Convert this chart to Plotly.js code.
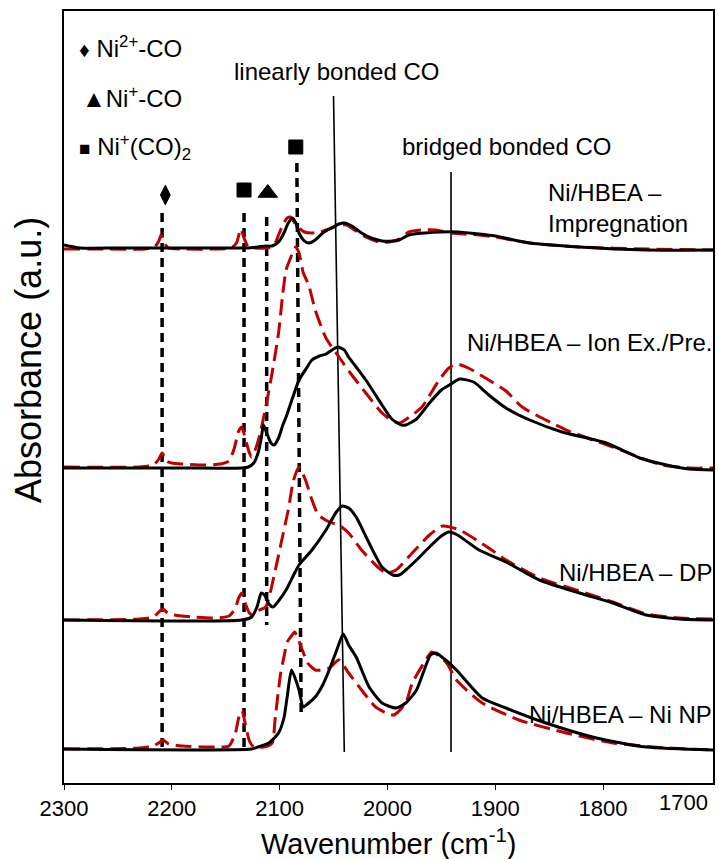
<!DOCTYPE html>
<html><head><meta charset="utf-8">
<script src="https://cdn.plot.ly/plotly-3.0.1.min.js"></script>
<style>html,body{margin:0;padding:0;background:#fff}#chart{width:718px;height:859px}</style>
</head><body><div id="chart"></div>
<script>
// ---- Data (wavenumber in cm-1, absorbance in offset a.u.) ----
const impregWnK = [2300,2285,2250,2200,2150,2130,2120,2113,2107,2101,2096,2092,2088,2085,2082,2078,2073,2067,2060,2052,2045,2040,2033,2024,2015,2005,1995,1989,1980,1965,1950,1935,1915,1900,1868,1822,1760,1698];
const impregK   = [5.38,5.35,5.35,5.35,5.35,5.35,5.36,5.37,5.37,5.41,5.50,5.60,5.65,5.60,5.50,5.43,5.40,5.43,5.50,5.55,5.59,5.60,5.57,5.50,5.45,5.42,5.42,5.43,5.48,5.50,5.51,5.51,5.49,5.47,5.40,5.36,5.33,5.33];
const impregWnR = [2300,2260,2225,2216,2212,2210,2207,2203,2190,2160,2145,2140,2136,2133,2129,2122,2113,2108,2104,2101,2097,2093,2090,2086,2082,2077,2070,2062,2052,2043,2038,2029,2020,2008,1998,1989,1980,1968,1955,1941,1915,1900,1868,1822,1760,1698];
const impregR   = [5.34,5.34,5.34,5.36,5.42,5.48,5.40,5.35,5.34,5.34,5.35,5.40,5.54,5.45,5.36,5.35,5.35,5.36,5.40,5.48,5.58,5.65,5.66,5.60,5.55,5.51,5.50,5.51,5.55,5.58,5.58,5.52,5.46,5.41,5.41,5.44,5.51,5.53,5.53,5.50,5.48,5.46,5.40,5.36,5.34,5.33];

const ionWnK = [2300,2200,2135,2129,2124,2120,2117,2115,2112,2108,2105,2101,2097,2094,2088,2082,2075,2070,2063,2057,2050,2046,2040,2036,2029,2020,2011,2005,1996,1987,1983,1973,1961,1950,1941,1933,1920,1906,1890,1868,1838,1797,1766,1741,1720,1698];
const ionK   = [3.15,3.15,3.15,3.16,3.20,3.30,3.45,3.58,3.50,3.40,3.38,3.45,3.58,3.66,3.85,4.03,4.15,4.23,4.27,4.29,4.34,4.36,4.33,4.26,4.16,4.03,3.88,3.78,3.64,3.58,3.58,3.64,3.80,3.93,3.99,4.04,4.01,3.88,3.75,3.63,3.51,3.40,3.25,3.18,3.14,3.13];
const ionWnR = [2300,2230,2217,2212,2209,2205,2200,2190,2170,2155,2147,2142,2138,2135,2132,2128,2126,2122,2118,2113,2107,2101,2097,2094,2091,2088,2085,2082,2078,2073,2067,2057,2045,2033,2020,2005,1995,1989,1977,1968,1952,1943,1936,1925,1906,1890,1875,1834,1791,1745,1720,1698];
const ionR   = [3.16,3.16,3.18,3.24,3.30,3.22,3.20,3.19,3.18,3.19,3.22,3.35,3.52,3.56,3.45,3.30,3.26,3.35,3.50,3.75,4.10,4.50,4.90,5.13,5.22,5.30,5.36,5.30,5.10,4.98,4.73,4.45,4.26,4.08,3.90,3.70,3.62,3.60,3.68,3.76,4.03,4.15,4.19,4.15,4.03,3.92,3.76,3.53,3.36,3.18,3.15,3.15];

const dpWnK = [2300,2135,2126,2121,2117,2114,2110,2106,2101,2094,2087,2082,2070,2057,2048,2042,2036,2029,2017,2005,1995,1989,1983,1973,1961,1950,1943,1935,1915,1890,1859,1822,1791,1760,1729,1698];
const dpK   = [1.63,1.63,1.66,1.76,1.90,1.88,1.79,1.76,1.82,1.93,2.08,2.18,2.33,2.53,2.70,2.77,2.75,2.66,2.40,2.16,2.08,2.08,2.13,2.23,2.36,2.47,2.51,2.48,2.33,2.21,2.03,1.90,1.80,1.68,1.64,1.63];
const dpWnR = [2300,2230,2217,2211,2208,2204,2198,2180,2160,2147,2141,2138,2135,2132,2128,2125,2121,2113,2104,2098,2092,2087,2082,2076,2070,2064,2054,2045,2036,2024,2008,2001,1992,1977,1961,1949,1933,1906,1890,1859,1822,1791,1760,1729,1698];
const dpR   = [1.63,1.64,1.66,1.72,1.74,1.70,1.68,1.66,1.65,1.67,1.75,1.85,1.90,1.80,1.70,1.68,1.72,1.76,2.13,2.43,2.73,3.03,3.16,3.03,2.83,2.68,2.61,2.58,2.50,2.33,2.15,2.10,2.13,2.30,2.48,2.57,2.53,2.35,2.23,2.05,1.92,1.81,1.69,1.65,1.64];

const npWnK = [2300,2126,2120,2110,2101,2096,2093,2089,2085,2082,2078,2073,2067,2060,2054,2047,2041,2036,2029,2017,2005,1992,1983,1973,1960,1955,1946,1936,1912,1890,1853,1806,1760,1698];
const npK   = [0.34,0.34,0.36,0.40,0.50,0.65,0.86,1.13,1.03,0.93,0.76,0.80,0.86,0.98,1.13,1.33,1.49,1.38,1.26,0.96,0.80,0.75,0.80,0.93,1.28,1.30,1.23,1.13,0.85,0.75,0.60,0.45,0.36,0.33];
const npWnR = [2300,2230,2217,2211,2208,2203,2190,2160,2147,2141,2138,2135,2132,2128,2124,2115,2107,2104,2099,2096,2093,2089,2086,2080,2074,2067,2060,2054,2045,2036,2024,2011,1999,1994,1983,1977,1965,1959,1955,1945,1936,1912,1878,1834,1791,1740,1698];
const npR   = [0.34,0.35,0.37,0.41,0.43,0.39,0.37,0.36,0.37,0.50,0.65,0.73,0.60,0.42,0.36,0.36,0.40,0.66,1.10,1.26,1.41,1.47,1.51,1.36,1.20,1.13,1.13,1.15,1.23,1.10,0.93,0.76,0.69,0.68,0.80,1.00,1.22,1.31,1.29,1.20,1.03,0.80,0.63,0.50,0.40,0.35,0.33];

// peak assignment guide lines (dashed)
const assignWnTop    = [2209, 2133, 2112, 2084];
const assignWnBottom = [2209, 2133, 2112, 2080];
const assignTop      = [5.70, 5.70, 5.66, 6.20];
const assignBottom   = [0.33, 0.33, 1.58, 0.68];
const symbolWn   = [2206, 2133, 2111, 2085];
const symbolY    = [5.88, 5.93, 5.90, 6.36];
const symbolKind = ['diamond-tall', 'square', 'triangle-up', 'square'];

// bonded CO guide lines (solid)
const bondWnTop    = [2050, 1941];
const bondWnBottom = [2040, 1941];
const bondTop      = [6.87, 6.11];
const bondBottom   = [0.31, 0.31];

const xTicks = [2300, 2200, 2100, 2000, 1900, 1800, 1700];

// ---- Traces ----
const BLACK = '#000000', RED = '#C00000';
const traces = [];
function spec(wn, y, color, dashed) {
  return {x: wn, y: y, type: 'scatter', mode: 'lines', hoverinfo: 'skip',
    line: {color: color, width: 3, shape: 'spline', smoothing: 0.6, dash: dashed ? '16px,7px' : 'solid'}};
}
for (let i = 0; i < assignWnTop.length; i++) {
  traces.push({x: [assignWnTop[i], assignWnBottom[i]], y: [assignTop[i], assignBottom[i]],
    type: 'scatter', mode: 'lines', line: {color: BLACK, width: 3.5, dash: '9px,6px'}, hoverinfo: 'skip'});
}
for (let i = 0; i < bondWnTop.length; i++) {
  traces.push({x: [bondWnTop[i], bondWnBottom[i]], y: [bondTop[i], bondBottom[i]],
    type: 'scatter', mode: 'lines', line: {color: BLACK, width: 1.6}, hoverinfo: 'skip'});
}
traces.push(spec(impregWnR, impregR, RED, true));
traces.push(spec(impregWnK, impregK, BLACK, false));
traces.push(spec(ionWnR, ionR, RED, true));
traces.push(spec(ionWnK, ionK, BLACK, false));
traces.push(spec(dpWnR, dpR, RED, true));
traces.push(spec(dpWnK, dpK, BLACK, false));
traces.push(spec(npWnR, npR, RED, true));
traces.push(spec(npWnK, npK, BLACK, false));
traces.push({x: symbolWn, y: symbolY, type: 'scatter', mode: 'markers', hoverinfo: 'skip', opacity: 1,
  marker: {symbol: symbolKind, size: [14, 14, 17, 14], color: '#000000', opacity: 1,
           line: {width: 1, color: '#000000'}}});

// ---- Layout ----
const L = 64, R = 5, T = 11, B = 76, W = 718, H = 859;
const PW = W - L - R, PH = H - T - B;
const px = v => (v - L) / PW;
const py = v => (H - B - v) / PH;
const FONT = 'Liberation Sans, Arial, sans-serif';
function ann(text, x, y, xanchor, size, extra) {
  return Object.assign({text: text, x: px(x), y: py(y), xref: 'paper', yref: 'paper',
    xanchor: xanchor, yanchor: 'middle', showarrow: false,
    font: {family: FONT, size: size, color: '#000'}}, extra || {});
}
const annotations = [
  ann('linearly bonded CO', 336, 72, 'center', 24),
  ann('bridged bonded CO', 506, 147, 'center', 24),
  ann('Ni/HBEA –<br>Impregnation', 546, 208, 'left', 24, {align: 'left'}),
  ann('Ni/HBEA – Ion Ex./Pre.', 714, 342, 'right', 24),
  ann('Ni/HBEA – DP', 714, 573, 'right', 24),
  ann('Ni/HBEA – Ni NP', 714, 714, 'right', 24),
  ann('<span style="font-size:21px">♦</span> Ni<sup>2+</sup>-CO', 77, 47, 'left', 24),
  ann('▲Ni<sup>+</sup>-CO', 80, 97, 'left', 24),
  ann('<span style="font-size:19px">■</span> Ni<sup>+</sup>(CO)<sub>2</sub>', 77, 147, 'left', 24),
  ann('Wavenumber (cm<sup>-1</sup>)', 388, 842, 'center', 29),
  ann('Absorbance (a.u.)', 28, 360, 'center', 36, {textangle: -90}),
  {text: String(xTicks[6]), x: xTicks[6], xref: 'x', y: 0, yref: 'paper', yanchor: 'top', yshift: -5,
   xanchor: 'right', xshift: -1, showarrow: false, font: {family: FONT, size: 22, color: '#000'}}
];

const layout = {
  width: W, height: H, margin: {l: L, r: R, t: T, b: B},
  paper_bgcolor: '#fff', plot_bgcolor: '#fff', showlegend: false,
  font: {family: FONT, color: '#000'},
  xaxis: {range: [2300, 1698], tickvals: xTicks.slice(0, 6), ticktext: xTicks.slice(0, 6).map(String),
    ticks: 'outside', ticklen: 5, tickwidth: 1, tickcolor: '#000',
    tickfont: {family: FONT, size: 22, color: '#000'},
    showline: true, mirror: true, linecolor: '#000', linewidth: 2, showgrid: false, zeroline: false},
  yaxis: {range: [0, 7.72], showticklabels: false, ticks: '', showline: true, mirror: true,
    linecolor: '#000', linewidth: 2, showgrid: false, zeroline: false},
  annotations: annotations
};
Plotly.newPlot('chart', traces, layout, {staticPlot: true, displayModeBar: false});
</script></body></html>
